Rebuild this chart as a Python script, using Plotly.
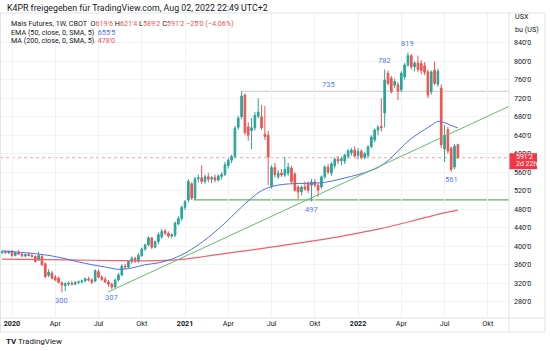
import math
import pandas as pd
import plotly.graph_objects as go

# ---------------- data (weekly candles, Mais Futures 1W CBOT) ----------------
first_week = "2019-12-16"
opens = [386, 388, 386, 389, 380, 386, 383, 379, 382, 380, 378, 370, 378, 362, 337, 342, 333, 331, 321, 315,
         318, 320, 318, 322, 323, 325, 329, 327, 325, 345, 333, 328, 323, 318, 312, 327, 338, 357, 355, 367,
         374, 368, 380, 394, 403, 418, 398, 410, 420, 433, 428, 422, 424, 448, 460, 484, 500, 535, 504, 546,
         548, 540, 550, 545, 548, 543, 551, 555, 574, 586, 594, 657, 680, 727, 658, 650, 656, 681, 680, 642,
         640, 530, 570, 550, 558, 554, 558, 569, 556, 528, 518, 528, 536, 532, 539, 532, 528, 550, 571, 558,
         574, 588, 585, 584, 594, 602, 608, 596, 605, 592, 596, 615, 630, 651, 659, 688, 774, 763, 748, 749,
         738, 766, 792, 812, 788, 796, 795, 790, 777, 734, 781, 750, 742, 610, 652, 612, 571, 619.75]
highs = [390, 391, 390, 392, 388, 392, 386, 384, 386, 384, 380, 388, 381, 365, 350, 346, 338, 334, 324, 322,
         324, 325, 324, 326, 328, 332, 334, 331, 350, 350, 337, 334, 327, 321, 330, 342, 361, 362, 370, 378,
         377, 385, 397, 405, 422, 420, 412, 430, 438, 437, 432, 428, 453, 465, 488, 500, 545, 538, 550, 555,
         575, 555, 558, 552, 555, 555, 560, 582, 590, 598, 660, 682, 735, 730, 668, 677, 690, 720, 705, 703,
         650, 575, 580, 565, 567, 593, 580, 574, 560, 532, 531, 540, 540, 545, 545, 536, 553, 575, 578, 582,
         592, 595, 594, 600, 610, 612, 616, 612, 610, 604, 618, 640, 655, 662, 720, 782, 780, 768, 762, 755,
         778, 796, 819, 816, 800, 812, 802, 798, 782, 780, 799, 784, 750, 662, 658, 615, 621, 621.5]
lows = [383, 384, 383, 377, 378, 381, 377, 376, 378, 376, 365, 368, 357, 331, 333, 328, 325, 320, 300, 303,
        314, 315, 316, 318, 319, 322, 324, 318, 322, 331, 325, 320, 312, 307, 310, 324, 335, 350, 352, 362,
        364, 364, 377, 390, 400, 394, 395, 405, 416, 424, 418, 417, 420, 445, 455, 478, 495, 500, 500, 538,
        535, 535, 538, 536, 538, 540, 544, 552, 568, 580, 590, 652, 675, 640, 628, 610, 650, 676, 652, 630,
        532, 525, 548, 545, 550, 550, 552, 534, 518, 502, 510, 520, 515, 497, 528, 506, 524, 546, 555, 552,
        568, 578, 575, 578, 590, 596, 592, 588, 588, 588, 592, 612, 625, 640, 648, 657, 748, 730, 742, 716,
        733, 760, 788, 782, 778, 776, 772, 770, 720, 728, 748, 745, 612, 582, 600, 561, 566, 589.25]
closes = [388, 386, 389, 380, 386, 383, 379, 382, 380, 378, 367, 380, 360, 334, 344, 331, 327, 322, 316, 319,
          320, 318, 322, 323, 325, 330, 327, 322, 347, 333, 328, 323, 318, 312, 327, 338, 357, 355, 367, 374,
          368, 380, 394, 403, 418, 398, 410, 425, 432, 428, 422, 425, 450, 460, 484, 496, 540, 504, 546, 548,
          540, 550, 545, 548, 543, 552, 555, 576, 586, 594, 655, 677, 725, 646, 640, 656, 683, 690, 656, 637,
          593, 570, 555, 558, 554, 566, 571, 540, 521, 517, 528, 524, 521, 539, 532, 521, 550, 571, 560, 578,
          588, 584, 589, 597, 606, 608, 595, 605, 592, 600, 615, 636, 651, 657, 656, 759, 752, 734, 756, 735,
          774, 792, 812, 788, 796, 782, 780, 776, 727, 777, 752, 778, 619, 640, 606, 566, 616.25, 591.25]

# EMA 50 and MA 200 (index = candle number)
ema_idx = [0, 7, 11, 15, 19, 23, 27, 31, 35, 39, 43, 47, 51, 55, 59, 63, 67, 71, 75, 78, 81, 85, 91, 97,
           101, 105, 109, 113, 116, 119, 123, 127, 130, 131, 133, 135, 137]
ema_vals = [390, 386, 383, 379, 373, 366, 360, 355, 350, 353, 360, 364, 372, 385, 403, 425, 450, 478, 504,
            520, 529, 534, 536, 538, 544, 551, 559, 570, 585, 606, 633, 652, 666, 670, 667, 661, 655.625]
ma_idx = [0, 13, 23, 33, 43, 51, 55, 59, 63, 73, 83, 93, 103, 113, 123, 131, 137]
ma_vals = [372, 371, 370, 369, 368.5, 370, 372, 376, 380, 390, 400, 411, 423, 437, 454, 469, 478]

# drawings
trend_dates = ["2020-07-26", "2022-11-16"]
trend_vals = [301, 702]
hline_starts = ["2021-05-03", "2021-01-22"]
hline_vals = [735, 500]
hline_colors = ["#c6c8cf", "#5cb860"]
low_marks = [18, 33, 93, 135]
high_marks = [115, 122]
line_label_date = "2021-11-01"

tick_dates = ["2020-01-06", "2020-04-06", "2020-07-06", "2020-10-05", "2021-01-04", "2021-04-05",
              "2021-07-05", "2021-10-04", "2022-01-03", "2022-04-04", "2022-07-04", "2022-10-03"]
tick_text = ["<b>2020</b>", "Apr", "Jul", "Okt", "<b>2021</b>", "Apr", "Jul", "Okt", "<b>2022</b>",
             "Apr", "Jul", "Okt"]
y_ticks = [280, 320, 360, 400, 440, 480, 520, 560, 600, 640, 680, 720, 760, 800, 840]

dates = pd.date_range(first_week, periods=len(closes), freq="W-MON")


def fmt(v):
    s = "−" if v < 0 else ""
    v = abs(v)
    w = int(math.floor(v + 1e-9))
    e = int(round((v - w) * 8))
    if e == 8:
        w, e = w + 1, 0
    return f"{s}{w}'{e}"


UP, DN = "#26a69a", "#ef5350"
BLUE, RED = "#4c6ef5", "#ef5350"
TXT = "#131722"
FONT = "Roboto"

fig = go.Figure()
fig.add_trace(go.Candlestick(
    x=dates, open=opens, high=highs, low=lows, close=closes,
    increasing=dict(line=dict(color=UP, width=1), fillcolor=UP),
    decreasing=dict(line=dict(color=DN, width=1), fillcolor=DN),
    whiskerwidth=0, showlegend=False, hoverinfo="skip"))
fig.add_trace(go.Scatter(x=[dates[i] for i in ma_idx], y=ma_vals, mode="lines",
                         line=dict(color="#f0606a", width=1.2, shape="spline"), showlegend=False))
fig.add_trace(go.Scatter(x=[dates[i] for i in ema_idx], y=ema_vals, mode="lines",
                         line=dict(color=BLUE, width=1, shape="spline"), showlegend=False))
fig.add_trace(go.Scatter(x=trend_dates, y=trend_vals, mode="lines",
                         line=dict(color="#66bb6a", width=1), showlegend=False))

shapes = []
for s, v, c in zip(hline_starts, hline_vals, hline_colors):
    shapes.append(dict(type="line", xref="x", yref="y", x0=s, x1="2022-11-20", y0=v, y1=v, layer="below",
                       line=dict(color=c, width=1.2)))
last = closes[-1]
shapes.append(dict(type="line", xref="paper", yref="y", x0=0, x1=1, y0=last, y1=last, layer="below",
                   line=dict(color="rgba(239,83,80,0.55)", width=1, dash="dot")))
# price box on the scale
shapes.append(dict(type="rect", xref="paper", yref="y", x0=1.0, x1=537 / 509, ysizemode="pixel",
                   yanchor=last, y0=-11.5, y1=4.5, fillcolor="#f23645", line=dict(width=0), layer="above"))


# frame (pixel -> paper helpers)
def px(x):
    return x / 509


def py(y):
    return (318 - y) / 305


FR = "#e0e3eb"
for x0, y0, x1, y1 in [(0, 13, 545, 13), (0, 318, 545, 318), (0, 332, 545, 332),
                       (509, 13, 509, 332), (545, 13, 545, 332), (0.5, 13, 0.5, 332)]:
    shapes.append(dict(type="line", xref="paper", yref="paper", x0=px(x0), x1=px(x1), y0=py(y0), y1=py(y1),
                       line=dict(color=FR, width=1)))

ann = []
# header / legend
ann.append(dict(x=px(5), y=py(8), xref="paper", yref="paper", xanchor="left", yanchor="middle",
                showarrow=False, font=dict(family=FONT, size=8.8, color=TXT),
                text="K4PR freigegeben für TradingView.com, Aug 02, 2022 22:49 UTC+2"))
chg = closes[-1] - closes[-2]
pct = chg / closes[-2] * 100
r = lambda t: f"<span style='color:{RED}'>{t}</span>"
line2 = (f"Mais Futures, 1W, CBOT  O{r(fmt(opens[-1]))} H{r(fmt(highs[-1]))} L{r(fmt(lows[-1]))} "
         f"C{r(fmt(closes[-1]))} {r(fmt(chg) + ' (' + ('−' if pct < 0 else '') + f'{abs(pct):.2f}%)')}")
ann.append(dict(x=px(9), y=py(23), xref="paper", yref="paper", xanchor="left", yanchor="middle",
                showarrow=False, font=dict(family=FONT, size=7.2, color=TXT), text=line2))
ann.append(dict(x=px(9), y=py(32), xref="paper", yref="paper", xanchor="left", yanchor="middle",
                showarrow=False, font=dict(family=FONT, size=7.2, color=TXT),
                text=f"EMA (50, close, 0, SMA, 5)  <span style='color:{BLUE}'>{fmt(ema_vals[-1])}</span>"))
ann.append(dict(x=px(9), y=py(41), xref="paper", yref="paper", xanchor="left", yanchor="middle",
                showarrow=False, font=dict(family=FONT, size=7.2, color=TXT),
                text=f"MA (200, close, 0, SMA, 5)  {r(fmt(ma_vals[-1]))}"))
# axis unit
for t, yy in [("USX", 17), ("bu (US)", 29.5)]:
    ann.append(dict(x=px(513), y=py(yy), xref="paper", yref="paper", xanchor="left", yanchor="middle",
                    showarrow=False, font=dict(family=FONT, size=7.2, color=TXT), text=t))
# price label text
ann.append(dict(x=px(514), y=last, xref="paper", yref="y", xanchor="left", yanchor="middle", yshift=1.2,
                showarrow=False, font=dict(family=FONT, size=7, color="white"), text=fmt(last)))
ann.append(dict(x=px(514), y=last, xref="paper", yref="y", xanchor="left", yanchor="middle", yshift=-6,
                showarrow=False, font=dict(family=FONT, size=7, color="white"), text="2d 22h"))
# high / low labels
LB = "#5a79f0"
for i in low_marks:
    ann.append(dict(x=dates[i], y=lows[i], xref="x", yref="y", yshift=-8, showarrow=False,
                    font=dict(family=FONT, size=7.5, color=LB), text=f"{lows[i]:g}"))
for i in high_marks:
    ann.append(dict(x=dates[i], y=highs[i], xref="x", yref="y", yshift=9, showarrow=False,
                    font=dict(family=FONT, size=7.5, color=LB), text=f"{highs[i]:g}"))
ann.append(dict(x=line_label_date, y=hline_vals[0], xref="x", yref="y", yshift=7, showarrow=False,
                font=dict(family=FONT, size=7.5, color=LB), text=f"{hline_vals[0]:g}"))
# logo
ann.append(dict(x=px(4), y=py(341.5), xref="paper", yref="paper", xanchor="left", yanchor="middle",
                showarrow=False, font=dict(family=FONT, size=8, color=TXT),
                text="<b>TV</b> TradingView"))

fig.update_layout(
    width=550, height=351, margin=dict(l=0, r=41, t=13, b=33),
    paper_bgcolor="white", plot_bgcolor="white",
    shapes=shapes, annotations=ann, showlegend=False,
    font=dict(family=FONT, size=7.2, color=TXT),
    xaxis=dict(type="date", range=["2019-12-11 18:00", "2022-11-16 14:00"],
               tickvals=tick_dates, ticktext=tick_text, showgrid=True, gridcolor="#f0f2f6",
               zeroline=False, showline=False, ticks="", rangeslider=dict(visible=False),
               tickfont=dict(family=FONT, size=7.2, color=TXT), fixedrange=True),
    yaxis=dict(side="right", range=[244.8, 904.2], tickvals=y_ticks, ticktext=[fmt(v) for v in y_ticks],
               showgrid=True, gridcolor="#f0f2f6", zeroline=False, showline=False, ticks="",
               ticklabelstandoff=4, tickfont=dict(family=FONT, size=7.2, color=TXT)),
)

fig.write_html("out.html")
